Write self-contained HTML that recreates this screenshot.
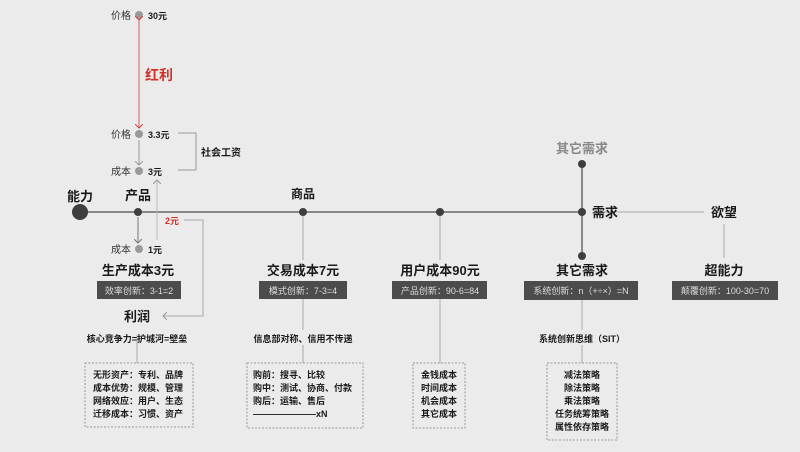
<!DOCTYPE html>
<html><head><meta charset="utf-8">
<style>
html,body{margin:0;padding:0;background:#ebebeb;}
svg{display:block;font-family:"Liberation Sans","Noto Sans CJK SC",sans-serif;}
.b{font-weight:bold;fill:#1a1a1a;}
.s{font-size:10px;fill:#333;}
</style></head>
<body>
<svg width="800" height="452" viewBox="0 0 800 452" xmlns="http://www.w3.org/2000/svg">
<rect width="800" height="452" fill="#ebebeb"/>
<defs>
<marker id="ar" markerWidth="8" markerHeight="8" refX="4" refY="4" orient="auto" markerUnits="userSpaceOnUse"><path d="M0,0 L4,4 L0,8" fill="none" stroke="#d04040" stroke-width="1"/></marker>
<marker id="ag" markerWidth="8" markerHeight="8" refX="4" refY="4" orient="auto" markerUnits="userSpaceOnUse"><path d="M0,0 L4,4 L0,8" fill="none" stroke="#999" stroke-width="1"/></marker>
<marker id="ad" markerWidth="8" markerHeight="8" refX="4" refY="4" orient="auto" markerUnits="userSpaceOnUse"><path d="M0,0 L4,4 L0,8" fill="none" stroke="#777" stroke-width="1"/></marker>
</defs>
<!-- main line -->
<line x1="80" y1="212" x2="582" y2="212" stroke="#666" stroke-width="1.5"/>
<line x1="596" y1="212" x2="704" y2="212" stroke="#aaa" stroke-width="1"/>
<line x1="582" y1="164" x2="582" y2="256" stroke="#666" stroke-width="1.5"/>
<!-- verticals -->
<line x1="303" y1="212" x2="303" y2="260" stroke="#aaa"/>
<line x1="440" y1="212" x2="440" y2="260" stroke="#aaa"/>
<line x1="724" y1="224" x2="724" y2="258" stroke="#aaa"/>
<line x1="137" y1="335" x2="137" y2="363" stroke="#aaa"/>
<line x1="303" y1="298" x2="303" y2="330" stroke="#aaa"/>
<line x1="303" y1="345" x2="303" y2="363" stroke="#aaa"/>
<line x1="440" y1="298" x2="440" y2="363" stroke="#aaa"/>
<line x1="582" y1="300" x2="582" y2="330" stroke="#aaa"/>
<line x1="582" y1="345" x2="582" y2="363" stroke="#aaa"/>
<!-- dots -->
<circle cx="80" cy="212" r="8" fill="#3e3e3e"/>
<circle cx="138" cy="212" r="4" fill="#3e3e3e"/>
<circle cx="303" cy="212" r="4" fill="#3e3e3e"/>
<circle cx="440" cy="212" r="4" fill="#3e3e3e"/>
<circle cx="582" cy="212" r="4" fill="#3e3e3e"/>
<circle cx="582" cy="164" r="4" fill="#3e3e3e"/>
<circle cx="582" cy="256" r="4" fill="#3e3e3e"/>
<!-- left column -->
<circle cx="139" cy="15" r="4" fill="#999"/>
<circle cx="139" cy="134" r="4" fill="#999"/>
<circle cx="139" cy="171" r="4" fill="#999"/>
<circle cx="139" cy="249" r="4" fill="#999"/>
<line x1="139" y1="20" x2="139" y2="128" stroke="#d06060" stroke-width="1" marker-end="url(#ar)" marker-start="url(#ar)"/>
<line x1="139" y1="140" x2="139" y2="165" stroke="#999" marker-end="url(#ag)"/>
<line x1="138" y1="217" x2="138" y2="243" stroke="#777" marker-end="url(#ad)"/>
<line x1="157" y1="240" x2="157" y2="180" stroke="#bbb" marker-end="url(#ag)"/>
<text x="131" y="19" class="s" text-anchor="end" font-size="9">价格</text>
<text x="148" y="19" class="b" font-size="9">30元</text>
<text x="145" y="80" font-size="14" font-weight="bold" fill="#d0302a">红利</text>
<text x="131" y="138" class="s" text-anchor="end" font-size="9">价格</text>
<text x="148" y="138" class="b" font-size="9">3.3元</text>
<text x="131" y="175" class="s" text-anchor="end" font-size="9">成本</text>
<text x="148" y="175" class="b" font-size="9">3元</text>
<text x="131" y="253" class="s" text-anchor="end" font-size="9">成本</text>
<text x="148" y="253" class="b" font-size="9">1元</text>
<polyline points="178,133 196,133 196,170 178,170" fill="none" stroke="#999"/>
<text x="201" y="156" class="b" font-size="10">社会工资</text>
<text x="165" y="224" font-size="9" font-weight="bold" fill="#d0302a">2元</text>
<polyline points="184,220 203,220 203,316 163,316" fill="none" stroke="#aaa" marker-end="url(#ag)"/>
<text x="80" y="201" class="b" font-size="13" text-anchor="middle">能力</text>
<text x="138" y="200" class="b" font-size="13" text-anchor="middle">产品</text>
<text x="303" y="198" class="b" font-size="12" text-anchor="middle">商品</text>
<text x="582" y="153" font-size="13" font-weight="bold" fill="#888" text-anchor="middle">其它需求</text>
<text x="592" y="217" class="b" font-size="13">需求</text>
<text x="724" y="217" class="b" font-size="13" text-anchor="middle">欲望</text>
<!-- titles -->
<text x="138" y="275" class="b" font-size="13" text-anchor="middle">生产成本3元</text>
<text x="303" y="275" class="b" font-size="13" text-anchor="middle">交易成本7元</text>
<text x="440" y="275" class="b" font-size="13" text-anchor="middle">用户成本90元</text>
<text x="582" y="275" class="b" font-size="13" text-anchor="middle">其它需求</text>
<text x="724" y="275" class="b" font-size="13" text-anchor="middle">超能力</text>
<g font-size="9" fill="#ddd" text-anchor="middle">
<rect x="97" y="281" width="84" height="18" fill="#4c4c4c"/><text x="139" y="294">效率创新：3-1=2</text>
<rect x="259" y="281" width="88" height="18" fill="#4c4c4c"/><text x="303" y="294">模式创新：7-3=4</text>
<rect x="392" y="281" width="95" height="18" fill="#4c4c4c"/><text x="440" y="294">产品创新：90-6=84</text>
<rect x="524" y="281" width="114" height="19" fill="#4c4c4c"/><text x="581" y="294">系统创新：n（+÷×）=N</text>
<rect x="672" y="281" width="106" height="19" fill="#4c4c4c"/><text x="725" y="294">颠覆创新：100-30=70</text>
</g>
<text x="137" y="321" class="b" font-size="13" text-anchor="middle">利润</text>
<text x="137" y="342" class="b" font-size="9" text-anchor="middle">核心竞争力=护城河=壁垒</text>
<text x="303" y="342" class="b" font-size="9" text-anchor="middle">信息部对称、信用不传递</text>
<text x="582" y="342" class="b" font-size="9" text-anchor="middle">系统创新思维（SIT）</text>
<!-- boxes -->
<g fill="none" stroke="#999" stroke-dasharray="2,1.5">
<rect x="85" y="363" width="108" height="64"/>
<rect x="247" y="363" width="116" height="65"/>
<rect x="413" y="363" width="52" height="65"/>
<rect x="547" y="363" width="70" height="77"/>
</g>
<g class="b" font-size="9">
<text x="93" y="378">无形资产：专利、品牌</text>
<text x="93" y="391">成本优势：规模、管理</text>
<text x="93" y="404">网络效应：用户、生态</text>
<text x="93" y="417">迁移成本：习惯、资产</text>
<text x="253" y="378">购前：搜寻、比较</text>
<text x="253" y="391">购中：测试、协商、付款</text>
<text x="253" y="404">购后：运输、售后</text>
<text x="253" y="417">———————xN</text>
</g>
<g class="b" font-size="9" text-anchor="middle">
<text x="439" y="378">金钱成本</text>
<text x="439" y="391">时间成本</text>
<text x="439" y="404">机会成本</text>
<text x="439" y="417">其它成本</text>
<text x="582" y="378">减法策略</text>
<text x="582" y="391">除法策略</text>
<text x="582" y="404">乘法策略</text>
<text x="582" y="417">任务统筹策略</text>
<text x="582" y="430">属性依存策略</text>
</g>
</svg>
</body></html>
